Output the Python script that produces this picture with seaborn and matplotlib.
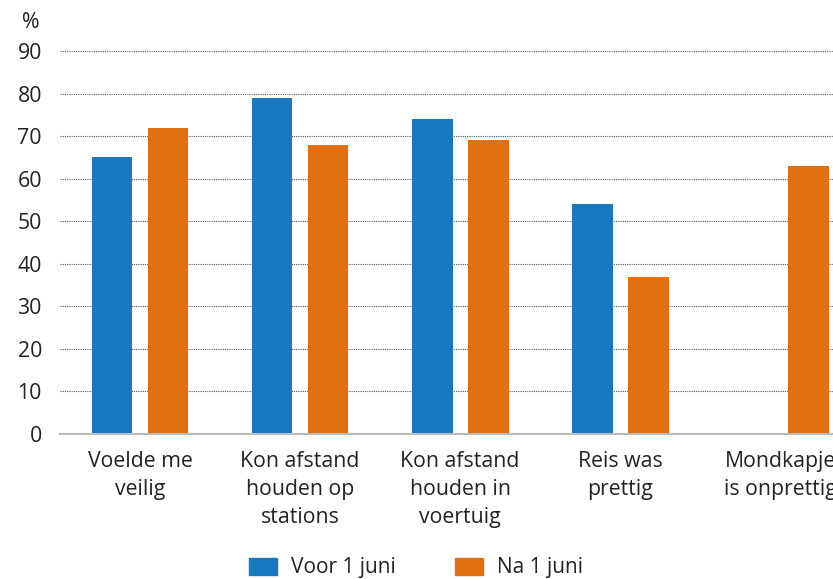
import pandas as pd
import matplotlib.pyplot as plt
import seaborn as sns
from matplotlib.patches import Patch

categories = ['Voelde me\nveilig', 'Kon afstand\nhouden op\nstations',
              'Kon afstand\nhouden in\nvoertuig', 'Reis was\nprettig',
              'Mondkapje\nis onprettig']
voor = [65, 79, 74, 54, None]
na = [72, 68, 69, 37, 63]
series = ['Voor 1 juni', 'Na 1 juni']
yticks = [0, 10, 20, 30, 40, 50, 60, 70, 80, 90]

blue = '#1a78bf'
orange = '#e1700e'

sns.set_style('white')
plt.rcParams['font.family'] = ['Open Sans', 'DejaVu Sans']

df = pd.DataFrame({
    'cat': categories * 2,
    'periode': [series[0]] * 5 + [series[1]] * 5,
    'waarde': voor + na,
})
df['waarde'] = df['waarde'].astype(float)

fig = plt.figure(figsize=(8.33, 5.79), dpi=100)
ax = fig.add_axes([0.072, 0.2504, 0.928, 0.6834])

# staafjes
sns.barplot(data=df, x='cat', y='waarde', hue='periode', order=categories,
            hue_order=series, palette=[blue, orange], saturation=1,
            width=0.7, gap=0.27, linewidth=0, legend=False, ax=ax, zorder=3)

ax.set_xlim(-0.5, 4.33)
ax.set_ylim(0, 93)
ax.set_yticks(yticks)
ax.yaxis.grid(True, linestyle=(0, (1, 1)), color='#555555', linewidth=0.8, zorder=0)
ax.xaxis.grid(False)
ax.set_xlabel('')
ax.set_ylabel('')
for s in ['top', 'right', 'left']:
    ax.spines[s].set_visible(False)
ax.spines['bottom'].set_color('#bbbbbb')
ax.spines['bottom'].set_linewidth(1.5)
ax.spines['bottom'].set_zorder(4)
ax.tick_params(axis='both', length=0, labelsize=15.3, labelcolor='#222222')
ax.tick_params(axis='y', pad=13)
ax.tick_params(axis='x', pad=12)
for lab in ax.get_xticklabels():
    lab.set_linespacing(1.45)

fig.text(22 / 833, 1 - 22 / 579, '%', fontsize=15.3, color='#222222', ha='left', va='center')

# legenda
handles = [Patch(color=blue, label=series[0]), Patch(color=orange, label=series[1])]
fig.legend(handles=handles, loc='center', bbox_to_anchor=(416 / 833, 1 - 568 / 579),
           ncol=2, frameon=False, fontsize=15, handlelength=1.35, handleheight=0.85,
           handletextpad=0.7, columnspacing=2.8, labelcolor='#222222')

fig.savefig('out.png', dpi=100)
